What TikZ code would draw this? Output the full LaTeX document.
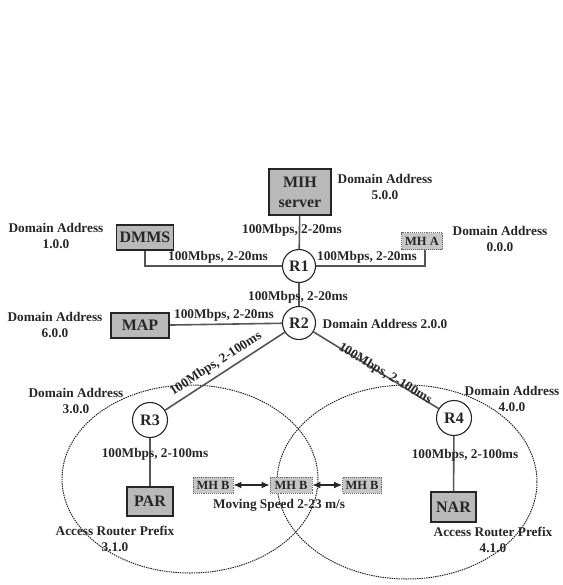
\documentclass[tikz,border=0pt]{standalone}
\usepackage{fontspec}
\setmainfont{Liberation Serif}
\usetikzlibrary{arrows.meta}
\definecolor{ink}{HTML}{262626}
\definecolor{wire}{HTML}{555555}
\definecolor{boxfill}{HTML}{B9B9B9}
\definecolor{hostfill}{HTML}{C6C6C6}
\begin{document}
\begin{tikzpicture}[x=1pt,y=-1pt,
  every node/.style={text=ink,font=\fontsize{13.3}{16}\selectfont\bfseries,inner sep=0pt},
  label/.style={align=center},
  router/.style={circle,draw=ink,line width=1.1pt,fill=white,minimum size=33pt,
    font=\fontsize{16}{18}\selectfont\bfseries},
  server/.style={rectangle,draw=ink,line width=1.1pt,fill=boxfill,
    font=\fontsize{16}{20}\selectfont\bfseries,align=center},
  host/.style={rectangle,draw=ink!70,densely dotted,line width=0.9pt,fill=hostfill,
    minimum height=16pt,font=\fontsize{12.5}{14}\selectfont\bfseries},
  link/.style={draw=wire,line width=1.6pt},
  cell/.style={draw=ink,dash pattern=on 1.4pt off 0.9pt,line width=1pt},
  move/.style={draw=ink,line width=1.2pt,{Latex[length=8pt,width=7pt]}-{Latex[length=8pt,width=7pt]}}
]
\useasboundingbox (0,0) rectangle (562,585);

% radio coverage of the two access routers
\draw[cell] (190,479) ellipse [x radius=128, y radius=94];
\draw[cell] (407,482) ellipse [x radius=130, y radius=97];

% network elements
\node[server,minimum width=62pt,minimum height=46pt] (mih) at (300,192) {MIH\\server};
\node[server,minimum width=57pt,minimum height=25pt] (dmms) at (145,237.5) {DMMS};
\node[server,minimum width=58pt,minimum height=25pt] (map) at (140,325.5) {MAP};
\node[host,minimum width=41pt,minimum height=17pt] (mha) at (422,241) {MH A};
\node[router] (r1) at (299,266) {R1};
\node[router] (r2) at (299,323) {R2};
\node[router,minimum size=35pt] (r3) at (150,420) {R3};
\node[router,minimum size=35pt] (r4) at (454,418) {R4};
\node[server,minimum width=46pt,minimum height=29pt] (par) at (150,501.5) {PAR};
\node[server,minimum width=45pt,minimum height=30pt] (nar) at (453.5,507) {NAR};
\node[host,minimum width=40pt] (mhb1) at (213,485) {MH B};
\node[host,minimum width=42pt] (mhb2) at (291,485) {MH B};
\node[host,minimum width=39pt] (mhb3) at (362,485) {MH B};

% wired links
\draw[link] (mih) -- (r1);
\draw[link] (r1) -- (r2);
\draw[link] (dmms.south) |- (r1.west);
\draw[link] (r1.east) -| ([xshift=3pt]mha.south);
\draw[link] (map) -- (r2);
\draw[link] (r2) -- (r3);
\draw[link] (r2) -- (r4);
\draw[link] (r3) -- (par);
\draw[link] (r4) -- (nar);

% host movement between cells
\draw[move] (mhb1) -- (mhb2);
\draw[move] (mhb2) -- (mhb3);

% link parameters
\node (l1) at (292,230) {100Mbps, 2-20ms};
\node (l2) at (298,297) {100Mbps, 2-20ms};
\node (l3) at (218,257) {100Mbps, 2-20ms};
\node (l4) at (367,257) {100Mbps, 2-20ms};
\node (l5) at (224,315) {100Mbps, 2-20ms};
\node[rotate=33] (l6) at (216,364) {100Mbps, 2-100ms};
\node[rotate=-31] (l7) at (385,374) {100Mbps, 2-100ms};
\node (l8) at (155,454) {100Mbps, 2-100ms};
\node (l9) at (465,455) {100Mbps, 2-100ms};

% addressing
\node[label] (d5) at (385,187) {Domain Address\\5.0.0};
\node[label] (d1) at (56,236) {Domain Address\\1.0.0};
\node[label] (d0) at (500,239) {Domain Address\\0.0.0};
\node[label] (d6) at (55,325) {Domain Address\\6.0.0};
\node (d2) at (385,324) {Domain Address 2.0.0};
\node[label] (d3) at (76,401) {Domain Address\\3.0.0};
\node[label] (d4) at (512,399) {Domain Address\\4.0.0};
\node[label] (p3) at (115,539) {Access Router Prefix\\3.1.0};
\node[label] (p4) at (493,540) {Access Router Prefix\\4.1.0};
\node (spd) at (279,505) {Moving Speed 2-23 m/s};
\end{tikzpicture}
\end{document}
